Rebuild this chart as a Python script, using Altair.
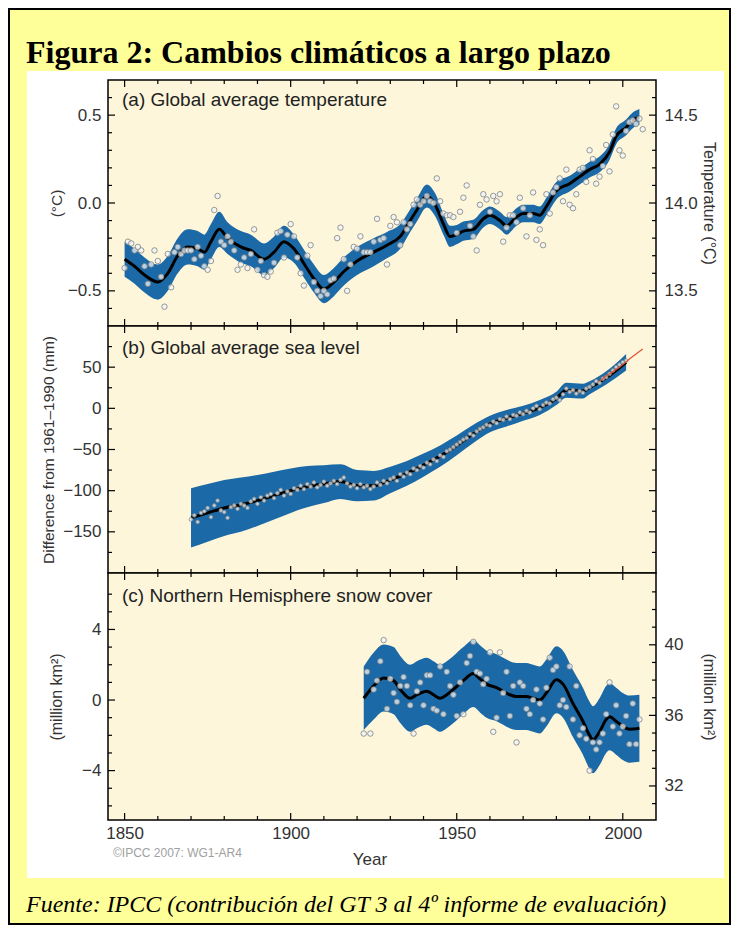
import altair as alt
import pandas as pd

# ---------------- data ----------------
temp_years = list(range(1850, 2007))
temp_anom = [
    -0.37, -0.22, -0.23, -0.27, -0.25, -0.27, -0.36, -0.46, -0.35, -0.27,
    -0.33, -0.42, -0.59, -0.29, -0.48, -0.28, -0.25, -0.29, -0.27, -0.27,
    -0.27, -0.32, -0.25, -0.30, -0.36, -0.38, -0.33, -0.04, 0.04, -0.22,
    -0.24, -0.19, -0.22, -0.27, -0.38, -0.35, -0.31, -0.37, -0.29, -0.15,
    -0.38, -0.33, -0.41, -0.42, -0.39, -0.34, -0.17, -0.16, -0.31, -0.18,
    -0.12, -0.19, -0.31, -0.40, -0.47, -0.30, -0.24, -0.45, -0.50, -0.53,
    -0.50, -0.52, -0.44, -0.43, -0.20, -0.14, -0.32, -0.50, -0.35, -0.25,
    -0.26, -0.19, -0.28, -0.28, -0.28, -0.22, -0.09, -0.21, -0.20, -0.35,
    -0.13, -0.08, -0.11, -0.24, -0.11, -0.15, -0.12, -0.01, 0.02, -0.01,
    0.01, 0.04, 0.01, 0.00, 0.14, 0.01, -0.06, -0.07, -0.07, -0.08,
    -0.17, -0.05, 0.03, 0.10, -0.13, -0.19, -0.27, -0.01, 0.05, 0.02,
    -0.05, 0.04, 0.01, 0.05, -0.22, -0.14, -0.07, -0.07, -0.11, 0.03,
    -0.03, -0.19, -0.07, 0.06, -0.21, -0.15, -0.24, 0.05, -0.06, 0.06,
    0.09, 0.14, 0.01, 0.19, -0.01, -0.03, 0.05, 0.19, 0.20, 0.12,
    0.30, 0.25, 0.11, 0.15, 0.21, 0.33, 0.18, 0.39, 0.55, 0.30,
    0.27, 0.41, 0.46, 0.47, 0.45, 0.48, 0.42,
]
temp_smooth_years = [1850, 1853, 1856, 1860, 1863, 1866, 1869, 1872, 1874, 1876, 1878.5,
                     1881, 1885, 1888, 1892, 1895, 1898, 1901, 1904.5, 1907, 1910, 1913,
                     1916, 1920, 1925, 1929, 1933, 1936, 1938, 1941, 1943.5, 1946, 1948,
                     1950, 1952, 1955, 1958, 1960, 1963, 1965, 1968, 1970, 1973, 1975,
                     1977, 1980, 1984, 1987, 1990, 1993, 1996, 1998, 2001, 2003, 2005]
temp_smooth = [-0.32, -0.36, -0.41, -0.45, -0.40, -0.30, -0.25, -0.26, -0.28, -0.22, -0.15,
               -0.20, -0.25, -0.27, -0.32, -0.28, -0.22, -0.26, -0.36, -0.43, -0.49, -0.45,
               -0.39, -0.33, -0.28, -0.24, -0.19, -0.10, -0.04, 0.04, -0.01, -0.12, -0.19,
               -0.18, -0.16, -0.15, -0.09, -0.07, -0.10, -0.13, -0.08, -0.06, -0.06, -0.07,
               -0.02, 0.07, 0.11, 0.15, 0.19, 0.22, 0.29, 0.38, 0.43, 0.47, 0.49]
temp_halfwidth = [0.10, 0.10, 0.10, 0.10, 0.10, 0.10, 0.10, 0.10, 0.10, 0.10, 0.10,
                  0.09, 0.09, 0.09, 0.09, 0.09, 0.09, 0.08, 0.08, 0.08, 0.08, 0.08,
                  0.08, 0.08, 0.08, 0.075, 0.07, 0.065, 0.065, 0.065, 0.065, 0.06, 0.06,
                  0.055, 0.055, 0.055, 0.05, 0.05, 0.05, 0.05, 0.05, 0.05, 0.05, 0.05,
                  0.05, 0.05, 0.045, 0.045, 0.045, 0.045, 0.045, 0.045, 0.045, 0.045, 0.045]

sea_years = list(range(1870, 2002))
sea_level = [
    -135, -130, -138, -127, -125, -121, -132, -118, -112, -124,
    -126, -133, -120, -118, -122, -116, -118, -121, -113, -110,
    -116, -108, -112, -106, -104, -109, -103, -99, -106, -101,
    -104, -97, -99, -94, -98, -92, -95, -90, -96, -93,
    -89, -94, -91, -88, -92, -87, -84, -91, -95, -93,
    -97, -92, -96, -94, -98, -95, -90, -93, -88, -91,
    -86, -84, -88, -80, -83, -78, -80, -73, -75, -70,
    -72, -66, -68, -62, -64, -57, -59, -52, -50, -47,
    -44, -41, -38, -36, -31, -33, -28, -25, -23, -20,
    -21, -16, -18, -13, -14, -10, -13, -8, -9, -5,
    -7, -3, -5, 0, 3, -1, 4, 7, 6, 11,
    13, 10, 17, 24, 20, 22, 18, 21, 19, 24,
    26, 29, 33, 31, 36, 38, 42, 46, 50, 53,
    56, 58,
]
sea_smooth_years = [1870, 1875, 1880, 1885, 1890, 1895, 1900, 1905, 1910, 1915, 1920, 1925,
                    1930, 1935, 1940, 1945, 1950, 1955, 1960, 1965, 1970, 1975, 1980, 1983,
                    1988, 1990, 1995, 2001]
sea_smooth = [-133, -127, -121, -117, -112, -106, -100, -95, -92, -89, -94, -94,
              -87, -79, -69, -58, -45, -31, -19, -12, -6, 1, 12, 22,
              21, 25, 37, 56]
sea_halfwidth = [36, 35, 34, 33, 31, 29, 27, 25, 23, 21, 19, 18,
                 16, 15, 14, 13, 12, 11, 10, 10, 9, 9, 8, 9,
                 9, 8, 8, 10]
sat_years = [1993, 1996, 1999, 2002, 2005, 2006]
sat_level = [33, 42, 50, 60, 69, 72]

snow_years = list(range(1922, 2006))
snow_anom = [
    -1.9, 1.6, -1.9, 0.6, 1.1, 2.2, 3.4, -0.5,
    1.2, 0.4, -0.1, 0.8, 1.3, 0.8, -0.3, -1.9, 0.5, 1.0,
    -0.3, 1.4, 1.4, -0.5, -0.6, 1.9, -0.8, 1.6, 0.8, 0.3,
    -0.9, 1.0, -0.8, 2.1, 2.5, 3.3, 1.6, 1.5, 0.9, 1.2,
    2.7, -1.8, -1.0, 2.7, 0.4, 1.6, -0.9, 0.8, -2.4, 1.0,
    0.8, -0.5, -0.8, 0.0, 0.6, -0.2, -1.1, 0.7, 2.4, 1.7,
    1.9, -0.3, 0.0, -0.4, 1.9, -1.1, 0.8, -2.0, -1.6, -2.2,
    -4.0, -2.4, -2.8, -2.4, -1.9, -0.8, 1.0, -1.5, -0.3, -1.9,
    -1.5, -0.9, -2.5, -0.2, -2.5, -1.1,
]
snow_smooth_years = [1922, 1925, 1928, 1931, 1933, 1936, 1938, 1941, 1943, 1945, 1947, 1949,
                     1952, 1955, 1957, 1959, 1962, 1964, 1966, 1968, 1971, 1973, 1975, 1977,
                     1980, 1982, 1985, 1988, 1990, 1991, 1993, 1995, 1996, 1998, 2000, 2002, 2005]
snow_smooth = [0.1, 0.8, 1.25, 1.1, 0.6, 0.1, 0.3, 0.5, 0.3, 0.1, 0.3, 0.6,
               1.1, 1.5, 1.2, 0.9, 0.7, 0.5, 0.3, 0.2, 0.2, 0.1, 0.0, 0.4,
               1.15, 0.9, -0.2, -1.2, -2.0, -2.25, -1.8, -1.1, -0.95, -1.2, -1.5, -1.65, -1.6]
snow_halfwidth = [1.8, 1.9, 1.9, 1.9, 1.9, 1.9, 1.9, 1.9, 1.9, 1.9, 1.9, 1.9,
                  1.9, 1.9, 1.9, 1.9, 1.9, 1.9, 1.9, 1.9, 1.9, 1.9, 1.9, 1.9,
                  1.9, 1.9, 1.9, 1.9, 1.9, 1.9, 1.9, 1.9, 1.9, 1.9, 1.9, 1.9, 1.9]

x_major_ticks = [1850, 1900, 1950, 2000]
x_minor_ticks = [1860, 1870, 1880, 1890, 1910, 1920, 1930, 1940, 1960, 1970, 1980, 1990]

temp_major = [-0.5, 0.0, 0.5]
temp_minor = [-0.6, -0.4, -0.3, -0.2, -0.1, 0.1, 0.2, 0.3, 0.4, 0.6]
tabs_major = [13.5, 14.0, 14.5]
tabs_minor = [13.4, 13.6, 13.7, 13.8, 13.9, 14.1, 14.2, 14.3, 14.4, 14.6]
sea_major = [-150, -100, -50, 0, 50]
sea_minor = [-175, -125, -75, -25, 25, 75]
snow_major = [-4, 0, 4]
snow_minor = [-6, -5, -3, -2, -1, 1, 2, 3, 5, 6]
sabs_major = [32, 36, 40]
sabs_minor = [31, 33, 34, 35, 37, 38, 39, 41, 42, 43]

# ---------------- style ----------------
W = 548
HA, HB, HC = 246, 247, 247
BLUE = "#1b69a6"
CREAM = "#fdf6da"
YELLOW = "#ffff99"
FONT = "Liberation Sans"
LBL = 17
XS = alt.Scale(domain=[1845, 2010], nice=False, zero=False)
one = pd.DataFrame({"k": [0]})


def yaxis(orient, values, fmt, title, tx, ty, angle, pad, tsize=15.5):
    return alt.Axis(orient=orient, values=values, format=fmt, ticks=False, domain=False,
                    grid=False, labelFont=FONT, labelFontSize=LBL, labelColor="#333333",
                    labelPadding=pad, title=title, titleFont=FONT, titleFontSize=tsize,
                    titleFontWeight="normal", titleColor="#333333", titleX=tx, titleY=ty,
                    titleAngle=angle, titleAlign="center", titleBaseline="middle", zindex=1)


def vticks(values, ys, ax, side, length):
    df = pd.DataFrame({"v": values})
    x, x2 = (0, length) if side == "left" else (W, W - length)
    return alt.Chart(df).mark_rule(color="black", strokeWidth=1.2).encode(
        y=alt.Y("v:Q", scale=ys, axis=ax), x=alt.value(x), x2=alt.value(x2))


def hticks(values, xax, side, length, H):
    df = pd.DataFrame({"yr": values})
    y, y2 = (0, length) if side == "top" else (H, H - length)
    return alt.Chart(df).mark_rule(color="black", strokeWidth=1.2).encode(
        x=alt.X("yr:Q", scale=XS, axis=xax), y=alt.value(y), y2=alt.value(y2))


def text(txt, x, y, size, font=FONT, weight="normal", style="normal", color="#222222",
         align="left", baseline="middle"):
    return alt.Chart(one).mark_text(text=txt, font=font, fontSize=size, fontWeight=weight,
                                    fontStyle=style, color=color, align=align,
                                    baseline=baseline).encode(x=alt.value(x), y=alt.value(y))


def rect(x, x2, y, y2, fill, stroke="black", sw=0, fop=1):
    return alt.Chart(one).mark_rect(fill=fill, fillOpacity=fop, stroke=stroke,
                                    strokeWidth=sw).encode(
        x=alt.value(x), x2=alt.value(x2), y=alt.value(y), y2=alt.value(y2))


def series_layers(sm_years, sm_mid, sm_half, p_years, p_vals, ys, ax, xax, psize):
    sdf = pd.DataFrame({"year": sm_years, "mid": sm_mid, "half": sm_half})
    sdf["lo"] = sdf["mid"] - sdf["half"]
    sdf["hi"] = sdf["mid"] + sdf["half"]
    pdf = pd.DataFrame({"year": p_years, "val": p_vals})
    band = alt.Chart(sdf).mark_area(color=BLUE, interpolate="monotone").encode(
        x=alt.X("year:Q", scale=XS, axis=xax), y=alt.Y("lo:Q", scale=ys, axis=ax), y2="hi:Q")
    line = alt.Chart(sdf).mark_line(color="black", strokeWidth=3, interpolate="monotone").encode(
        x=alt.X("year:Q", scale=XS, axis=xax), y=alt.Y("mid:Q", scale=ys, axis=ax))
    pts = alt.Chart(pdf).mark_circle(size=psize, fill="#eef4f8", fillOpacity=0.75,
                                     stroke="#808080", strokeWidth=0.8, opacity=1).encode(
        x=alt.X("year:Q", scale=XS, axis=xax), y=alt.Y("val:Q", scale=ys, axis=ax))
    return [band, line, pts]


def frame_ticks(H, xax, ys, ax, major, minor, right=True):
    L = [hticks(x_major_ticks, xax, "top", 7, H), hticks(x_minor_ticks, xax, "top", 4, H),
         hticks(x_major_ticks, xax, "bottom", 7, H), hticks(x_minor_ticks, xax, "bottom", 4, H),
         vticks(major, ys, ax, "left", 7), vticks(minor, ys, ax, "left", 4)]
    if right:
        L += [vticks(major, ys, ax, "right", 7), vticks(minor, ys, ax, "right", 4)]
    return L


# ---------------- panel (a) ----------------
ysA = alt.Scale(domain=[-0.7, 0.7], nice=False, zero=False)
axA = yaxis("left", temp_major, ".1f", "(°C)", -52, HA / 2, -90, 7)
ysA2 = alt.Scale(domain=[13.3, 14.7], nice=False, zero=False)
axA2 = yaxis("right", tabs_major, ".1f", "Temperature (°C)", 52, HA / 2, 90, 8, 16)

leftA = alt.layer(
    rect(-99, 622, -71, 844, YELLOW, "black", 2),
    rect(-81, 616, -9, 798, "white"),
    rect(0, W, 0, HA, CREAM),
    text("Figura 2: Cambios climáticos a largo plazo", -82, -17, 32,
         font="Liberation Serif", weight="bold", color="black", baseline="alphabetic"),
    *series_layers(temp_smooth_years, temp_smooth, temp_halfwidth, temp_years, temp_anom,
                   ysA, axA, None, 30),
    *frame_ticks(HA, None, ysA, axA, temp_major, temp_minor, right=False),
    rect(0, W, 0, HA, "white", "black", 1.5, 0),
    text("(a) Global average temperature", 14, 20, 19),
)
rightA = alt.layer(vticks(tabs_major, ysA2, axA2, "right", 7),
                   vticks(tabs_minor, ysA2, axA2, "right", 4))
panel_a = alt.layer(leftA, rightA).resolve_scale(y="independent").properties(width=W, height=HA)

# ---------------- panel (b) ----------------
ysB = alt.Scale(domain=[-200, 100], nice=False, zero=False)
axB = yaxis("left", sea_major, "d", "Difference from 1961–1990 (mm)", -60, HB / 2, -90, 7)
satdf = pd.DataFrame({"year": sat_years, "val": sat_level})
panel_b = alt.layer(
    rect(0, W, 0, HB, CREAM),
    *series_layers(sea_smooth_years, sea_smooth, sea_halfwidth, sea_years, sea_level,
                   ysB, axB, None, 14),
    alt.Chart(satdf).mark_line(color="#e2553a", strokeWidth=1.3, interpolate="monotone").encode(
        x=alt.X("year:Q", scale=XS, axis=None), y=alt.Y("val:Q", scale=ysB, axis=axB)),
    *frame_ticks(HB, None, ysB, axB, sea_major, sea_minor, right=True),
    rect(0, W, 0, HB, "white", "black", 1.5, 0),
    text("(b) Global average sea level", 14, 22, 19),
).properties(width=W, height=HB)

# ---------------- panel (c) ----------------
ysC = alt.Scale(domain=[-6.8, 7.2], nice=False, zero=False)
axC = yaxis("left", snow_major, "d", "(million km²)", -52, HC / 2, -90, 7, 16)
ysC2 = alt.Scale(domain=[30.07, 44.07], nice=False, zero=False)
axC2 = yaxis("right", sabs_major, "d", "(million km²)", 52, HC / 2, 90, 8, 16)
xaxC = alt.Axis(orient="bottom", values=x_major_ticks, format="d", ticks=False, domain=False,
                grid=False, labelFont=FONT, labelFontSize=LBL, labelColor="#333333",
                labelPadding=5, labelFlush=False, title=None, zindex=1)

leftC = alt.layer(
    rect(0, W, 0, HC, CREAM),
    *series_layers(snow_smooth_years, snow_smooth, snow_halfwidth, snow_years, snow_anom,
                   ysC, axC, xaxC, 30),
    *frame_ticks(HC, xaxC, ysC, axC, snow_major, snow_minor, right=False),
    rect(0, W, 0, HC, "white", "black", 1.5, 0),
    text("(c) Northern Hemisphere snow cover", 14, 23, 19),
    text("Year", 262, 287, 17, align="center", color="#333333"),
    text("©IPCC 2007: WG1-AR4", 5, 280, 12, color="#a0a0a0"),
    text("Fuente: IPCC (contribución del GT 3 al 4º informe de evaluación)", -82, 339, 24,
         font="Liberation Serif", style="italic", color="black", baseline="alphabetic"),
)
rightC = alt.layer(vticks(sabs_major, ysC2, axC2, "right", 7),
                   vticks(sabs_minor, ysC2, axC2, "right", 4))
panel_c = alt.layer(leftC, rightC).resolve_scale(y="independent").properties(width=W, height=HC)

chart = alt.vconcat(panel_a, panel_b, panel_c, spacing=0, bounds="flush").properties(
    background=YELLOW, padding=0
).configure_view(strokeWidth=0)

chart.save("out.html", embed_options={"renderer": "svg", "actions": False})
